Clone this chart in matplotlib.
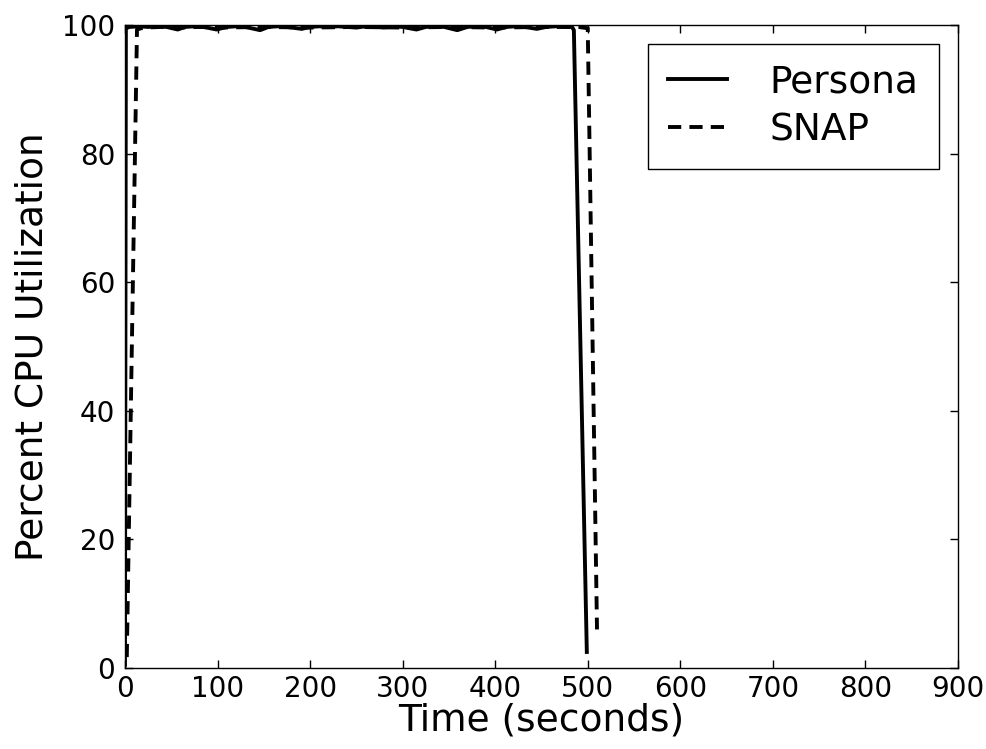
import matplotlib
matplotlib.use("Agg")
import matplotlib.pyplot as plt

persona_t = [0, 1, 5, 15, 25, 35, 45, 57, 65, 75, 85, 99, 110, 120, 130, 146, 155, 165, 175,
             191, 200, 210, 220, 230, 240, 250, 260, 270, 280, 290, 300, 315, 325, 335, 345,
             359, 370, 380, 390, 402, 412, 422, 432, 445, 455, 465, 475, 483, 485, 499]
persona_v = [0.5, 99.5, 99.7, 99.8, 99.7, 99.8, 99.7, 99.3, 99.7, 99.8, 99.7, 99.3, 99.7, 99.8, 99.7,
             99.2, 99.7, 99.8, 99.7, 99.4, 99.7, 99.8, 99.7, 99.8, 99.7, 99.6, 99.8, 99.7, 99.6, 99.8,
             99.7, 99.3, 99.7, 99.8, 99.7, 99.2, 99.7, 99.8, 99.7, 99.3, 99.7, 99.8, 99.7, 99.4, 99.7,
             99.8, 99.7, 99.7, 99.2, 2.5]

snap_t = [2, 13, 20, 40, 60, 80, 100, 150, 200, 250, 300, 350, 400, 450, 490, 500, 510]
snap_v = [1.7, 99.3, 99.6, 99.7, 99.6, 99.7, 99.6, 99.7, 99.6, 99.7, 99.6, 99.7, 99.6, 99.7, 99.7, 99.5, 6.0]

x_ticks = [0, 100, 200, 300, 400, 500, 600, 700, 800, 900]
y_ticks = [0, 20, 40, 60, 80, 100]

plt.rcParams['font.family'] = ['DejaVu Sans']
fig = plt.figure(figsize=(9.87, 7.49), dpi=100, facecolor='white')
ax = fig.add_axes([0.1266, 0.1081, 0.8440, 0.8585])

ax.plot(persona_t, persona_v, color='black', linestyle='-', linewidth=2.8, label='Persona')
ax.plot(snap_t, snap_v, color='black', linestyle='--', linewidth=2.8, label='SNAP',
        dashes=(3.4, 2.1))

ax.set_xlim(0, 900)
ax.set_ylim(0, 100)
ax.set_xticks(x_ticks)
ax.set_yticks(y_ticks)
ax.tick_params(direction='in', top=True, right=True, length=6, width=1, labelsize=20)
ax.tick_params(axis='x', pad=5)
ax.tick_params(axis='y', pad=7)
for s in ax.spines.values():
    s.set_linewidth(1)
ax.set_xlabel('Time (seconds)', fontsize=27, labelpad=0)
ax.set_ylabel('Percent CPU Utilization', fontsize=27, labelpad=8)

leg = ax.legend(loc='upper right', fontsize=27, fancybox=False, framealpha=1,
                edgecolor='black', handlelength=1.55, borderpad=0.55, labelspacing=0.32,
                handletextpad=1.15, borderaxespad=0.5)
leg.get_frame().set_linewidth(1)

fig.savefig('out.png', dpi=100, facecolor='white')
